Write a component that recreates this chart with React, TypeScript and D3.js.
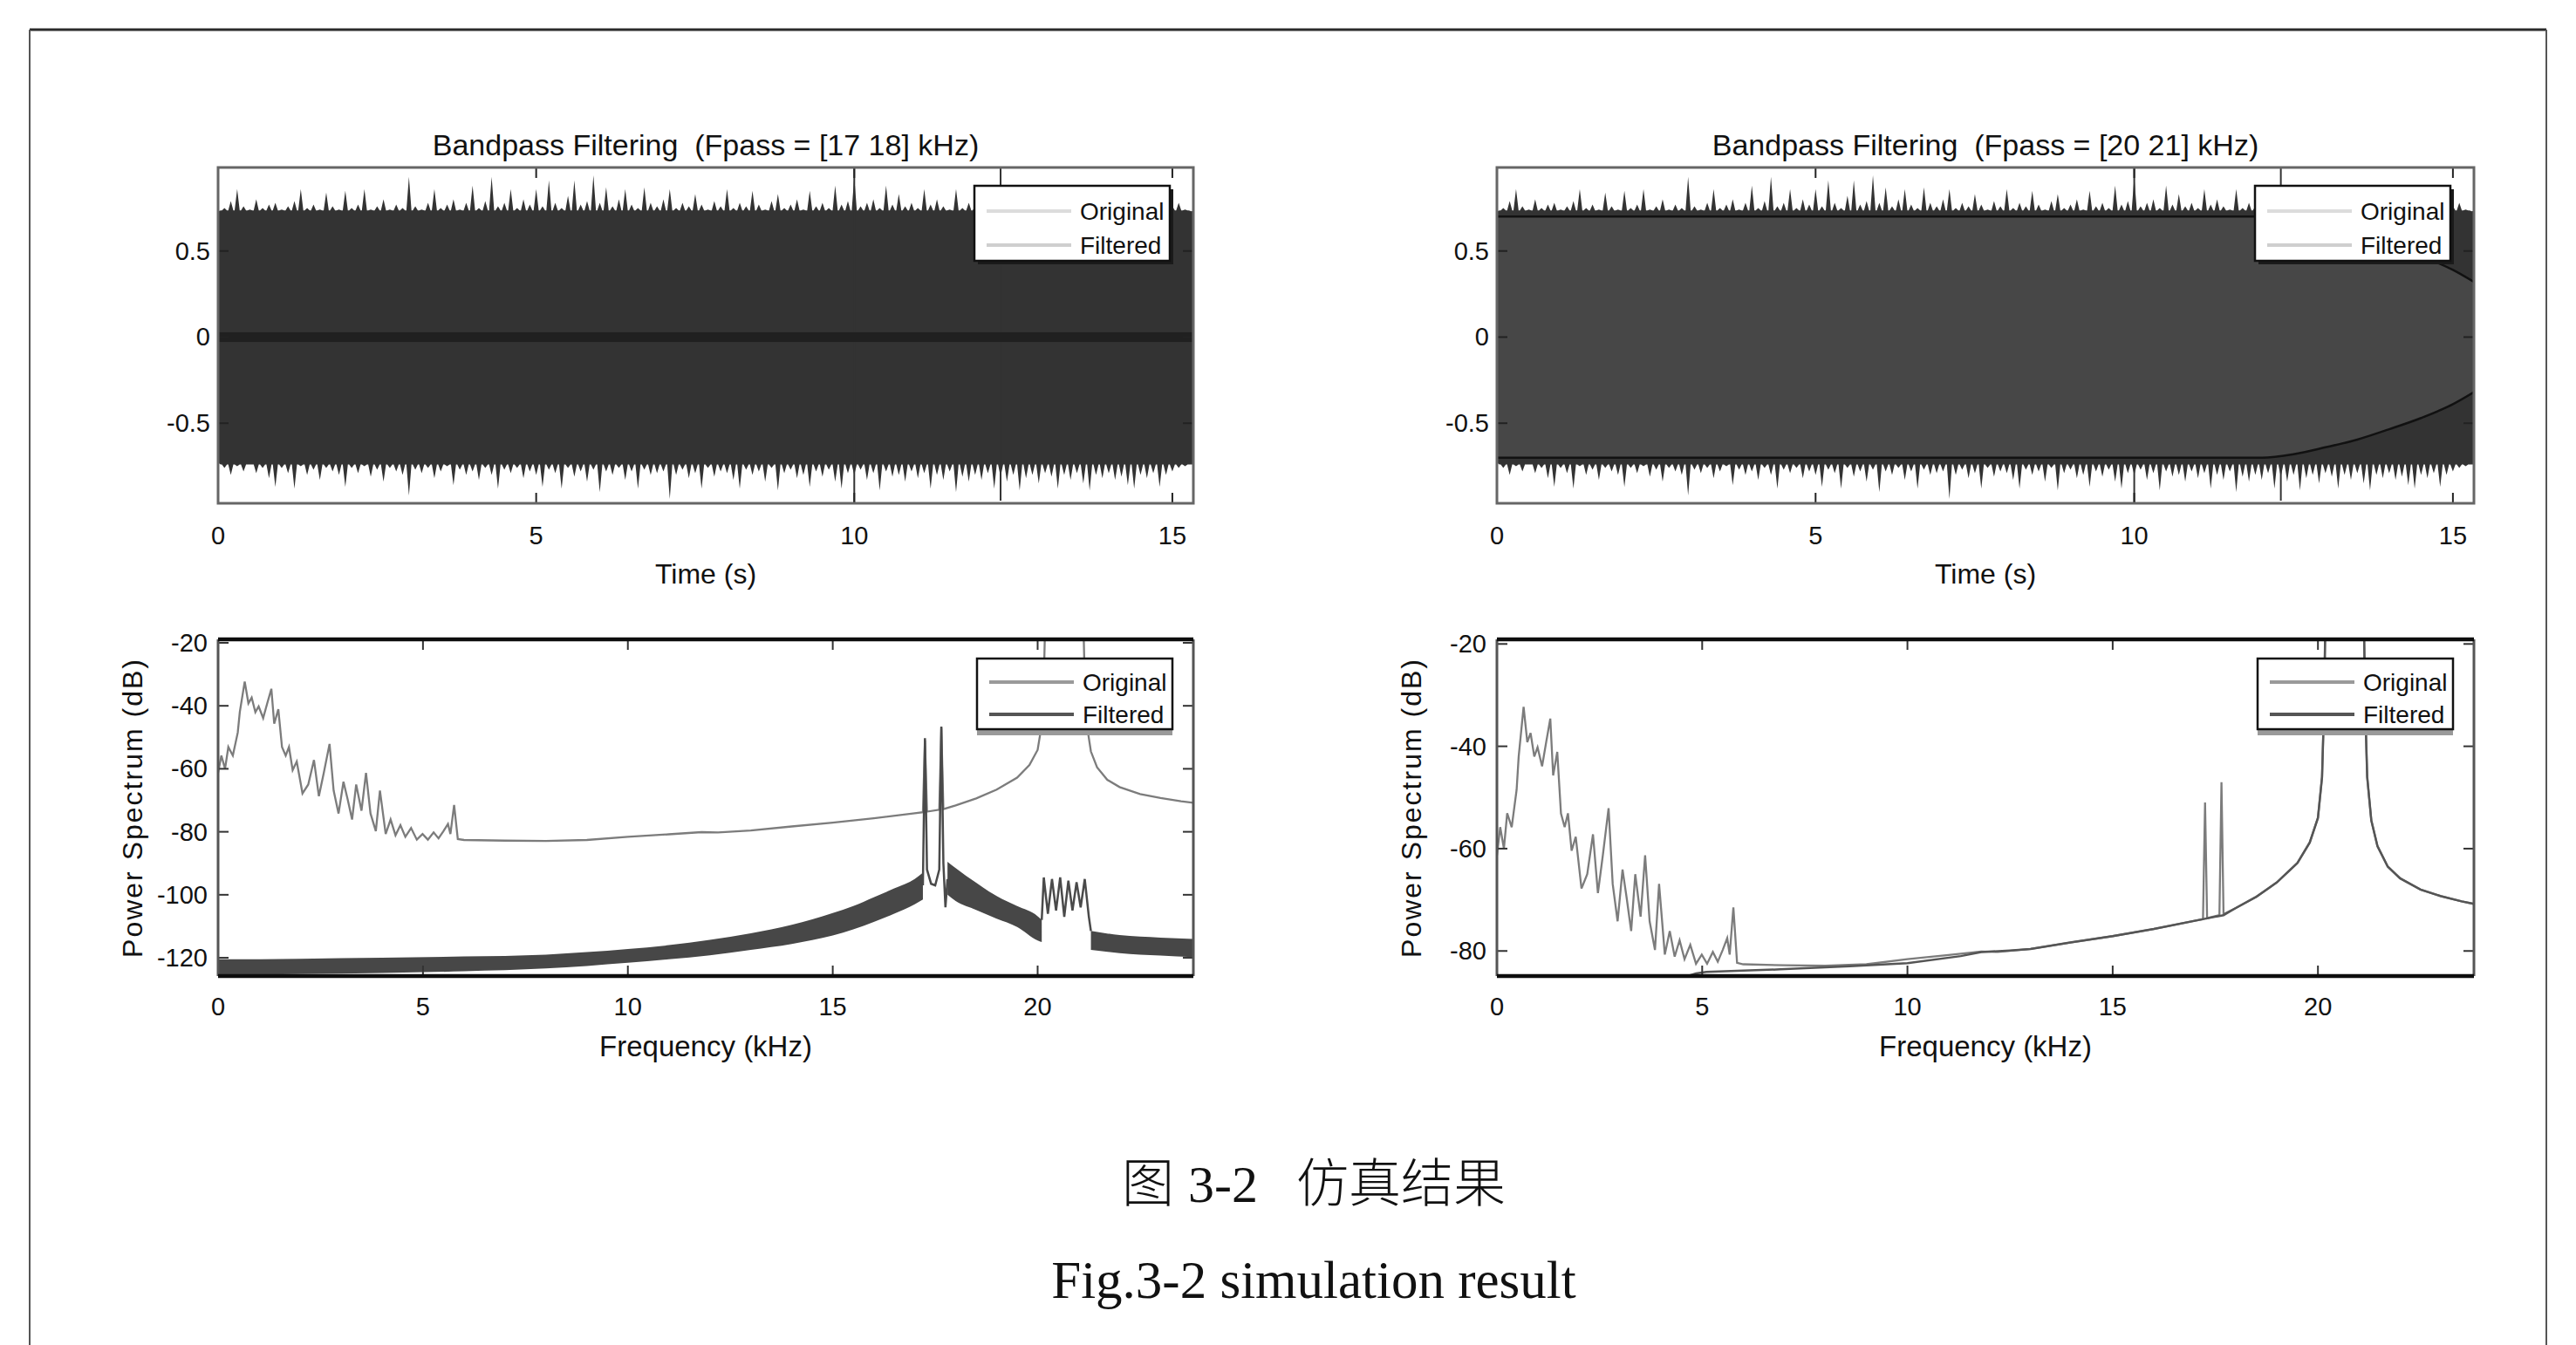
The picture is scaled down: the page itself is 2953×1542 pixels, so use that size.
import * as d3 from "d3";
import { useEffect } from "react";

const W = 2953;
const H = 1542;
const FONT = "'Liberation Sans', Arial, Helvetica, sans-serif";

// ---------- time domain (s, amplitude) ----------
const timeTicks = [0, 5, 10, 15];
const ampTicks = [-0.5, 0, 0.5];
const envStep = 0.1; // one envelope reading per 0.1 s
// upper envelope of the original signal, 0.0 .. 15.3 s
const origUpper = [
  0.73, 0.75, 0.79, 0.86, 0.76, 0.74, 0.8, 0.75, 0.77, 0.78,
  0.74, 0.76, 0.79, 0.86, 0.75, 0.77, 0.74, 0.84, 0.76, 0.74,
  0.85, 0.75, 0.77, 0.86, 0.74, 0.76, 0.8, 0.74, 0.77, 0.75,
  0.93, 0.76, 0.74, 0.78, 0.86, 0.75, 0.77, 0.8, 0.74, 0.78,
  0.88, 0.75, 0.79, 0.93, 0.76, 0.78, 0.86, 0.75, 0.8, 0.77,
  0.86, 0.76, 0.91, 0.78, 0.75, 0.82, 0.91, 0.77, 0.79, 0.94,
  0.78, 0.87, 0.76, 0.8, 0.86, 0.77, 0.75, 0.87, 0.78, 0.76,
  0.8, 0.86, 0.75, 0.78, 0.76, 0.83, 0.77, 0.74, 0.79, 0.76,
  0.86, 0.75, 0.78, 0.76, 0.85, 0.77, 0.74, 0.79, 0.83, 0.75,
  0.77, 0.8, 0.74, 0.85, 0.76, 0.78, 0.75, 0.88, 0.77, 0.79,
  0.93, 0.76, 0.78, 0.8, 0.75, 0.88, 0.77, 0.83, 0.76, 0.78,
  0.75, 0.86, 0.77, 0.8, 0.76, 0.74, 0.86, 0.75, 0.78, 0.76,
  0.88, 0.77, 0.75, 0.79, 0.82, 0.76, 0.74, 0.78, 0.8, 0.75,
  0.77, 0.76, 0.84, 0.75, 0.78, 0.74, 0.8, 0.76, 0.75, 0.77,
  0.83, 0.75, 0.77, 0.74, 0.8, 0.76, 0.75, 0.78, 0.82, 0.74,
  0.76, 0.78, 0.74, 0.73,
];
// lower envelope of the original signal, 0.0 .. 15.3 s
const origLower = [
  -0.73, -0.76, -0.8, -0.75, -0.78, -0.74, -0.79, -0.76, -0.82, -0.87,
  -0.76, -0.79, -0.88, -0.75, -0.8, -0.77, -0.83, -0.76, -0.78, -0.8,
  -0.87, -0.76, -0.79, -0.75, -0.81, -0.77, -0.84, -0.76, -0.78, -0.8,
  -0.92, -0.77, -0.79, -0.76, -0.82, -0.78, -0.75, -0.86, -0.77, -0.8,
  -0.78, -0.83, -0.76, -0.8, -0.88, -0.77, -0.79, -0.76, -0.82, -0.78,
  -0.8, -0.87, -0.77, -0.79, -0.88, -0.76, -0.81, -0.78, -0.84, -0.77,
  -0.9, -0.78, -0.8, -0.76, -0.83, -0.78, -0.88, -0.77, -0.8, -0.79,
  -0.78, -0.94, -0.8, -0.77, -0.82, -0.79, -0.88, -0.76, -0.81, -0.78,
  -0.79, -0.83, -0.88, -0.77, -0.8, -0.78, -0.84, -0.76, -0.89, -0.79,
  -0.77, -0.82, -0.8, -0.87, -0.78, -0.81, -0.77, -0.84, -0.88, -0.79,
  -0.8, -0.77, -0.83, -0.79, -0.89, -0.78, -0.81, -0.8, -0.84, -0.78,
  -0.82, -0.79, -0.88, -0.8, -0.83, -0.78, -0.9, -0.81, -0.84, -0.8,
  -0.83, -0.79, -0.88, -0.81, -0.84, -0.8, -0.89, -0.82, -0.8, -0.85,
  -0.79, -0.81, -0.88, -0.8, -0.83, -0.79, -0.85, -0.89, -0.8, -0.82,
  -0.79, -0.83, -0.81, -0.86, -0.88, -0.8, -0.82, -0.79, -0.87, -0.8,
  -0.78, -0.76, -0.75, -0.74,
];
const clickTimes = [10.0, 12.3];
const clickUpper = [0.98, 0.98];
const clickLower = [-0.96, -0.95];
// filtered output, Fpass = [17 18] kHz: almost nothing left
const filtLeftLevel = 0.028;
// filtered output, Fpass = [20 21] kHz: envelope
const filtRightT = [0, 12, 12.5, 13, 13.5, 14, 14.5, 15, 15.33];
const filtRightAmp = [0.7, 0.7, 0.68, 0.64, 0.595, 0.535, 0.47, 0.39, 0.32];

// ---------- spectrum (kHz, dB) ----------
const freqTicks = [0, 5, 10, 15, 20];
const dbTicksLeft = [-120, -100, -80, -60, -40, -20];
const dbTicksRight = [-80, -60, -40, -20];
const origFreq = [
  0, 0.08, 0.17, 0.25, 0.36, 0.48, 0.53, 0.65, 0.74, 0.82, 0.91, 0.99, 1.1, 1.2, 1.3, 1.37,
  1.47, 1.56, 1.65, 1.73, 1.82, 1.92, 2.06, 2.2, 2.34, 2.46, 2.58, 2.72, 2.82, 2.94, 3.06,
  3.16, 3.27, 3.37, 3.5, 3.61, 3.72, 3.85, 3.95, 4.09, 4.21, 4.33, 4.45, 4.57, 4.71, 4.85,
  4.99, 5.12, 5.26, 5.38, 5.5, 5.61, 5.67, 5.76, 5.85, 6.0, 7, 8, 9, 10, 11, 11.8, 12.2,
  13, 14, 15, 16, 17, 17.2, 17.25, 17.3, 17.6, 17.65, 17.7, 18, 18.5, 19, 19.5, 19.8, 20,
  20.1, 20.15, 20.2, 21.1, 21.15, 21.2, 21.3, 21.45, 21.7, 22, 22.5, 23, 23.5, 23.8,
];
const origDb = [
  -61.3, -55.8, -60, -53.1, -55.8, -48.5, -42, -32.3, -39.2, -37.4, -42, -40.2, -43.9, -39.2,
  -34.6, -45.7, -41.1, -53.1, -55.8, -53.1, -60.4, -57.7, -67.8, -65, -57.2, -68.7, -61.3,
  -52.1, -66.9, -74.2, -64.1, -69.6, -76.1, -65, -73.3, -61.3, -74.2, -79.8, -66.9, -80.7,
  -76.1, -81.1, -77.9, -81.6, -78.8, -82.5, -80.7, -82.5, -80.2, -82.1, -79.8, -77.5, -80.7,
  -71.5, -82.3, -82.6, -82.8, -82.9, -82.6, -81.6, -80.8, -80.1, -80.2, -79.6, -78.3, -77.1,
  -75.7, -74.1, -73.8, -51, -73.6, -73, -47, -72.8, -71.6, -69.4, -66.6, -62.8, -58.8, -54,
  -46, -32, -5, -5, -32, -46, -54.5, -59.5, -63.5, -65.8, -68, -69.3, -70.3, -70.8,
];
// filtered spectrum, Fpass = [17 18] kHz, dense ripple drawn as a band (freq, low, high)
const bandAFreq = [0, 2, 4, 6, 8, 9, 10, 11, 12, 13, 14, 14.5, 15, 15.5, 16, 16.5, 17, 17.2];
const bandALo = [-125.5, -125.2, -124.8, -124.3, -123.4, -122.6, -121.6, -120.5, -119.2, -117.5, -115.6, -114.4, -112.9, -111, -108.6, -106, -103, -101.5];
const bandAHi = [-120.5, -120.3, -120, -119.6, -119, -118.2, -117.2, -116, -114.3, -112.2, -109.5, -107.8, -105.8, -103.6, -100.8, -98, -95, -93];
const bandBFreq = [17.8, 18, 18.5, 19, 19.5, 20, 20.1];
const bandBLo = [-100, -102, -104.8, -107.6, -110.2, -114.5, -115];
const bandBHi = [-89.5, -91.5, -96.2, -100.4, -103.6, -106.8, -108];
const bandCFreq = [21.3, 22, 23, 23.8];
const bandCLo = [-117.5, -118.5, -119.3, -119.8];
const bandCHi = [-111.5, -112.8, -113.6, -114];
const peakFreq = [17.2, 17.25, 17.3, 17.4, 17.5, 17.6, 17.65, 17.7, 17.75, 17.8];
const peakDb = [-97, -50.3, -92, -96.5, -97, -92, -46.6, -90, -104, -95];
const boxFreq = [20.1, 20.15, 20.25, 20.35, 20.45, 20.55, 20.65, 20.75, 20.85, 20.95, 21.05, 21.15, 21.25, 21.3];
const boxDb = [-108, -94.5, -106, -95, -105, -94.5, -107, -95.5, -105, -96, -104, -95, -107, -111.5];
// filtered spectrum, Fpass = [20 21] kHz
const filtRFreq = [3.8, 4.85, 5.1, 6.9, 8.6, 10, 11.3, 11.8, 12.5, 13, 14, 15, 16, 17, 17.7, 18, 18.5, 19, 19.5, 19.8, 20, 20.1, 20.15, 20.2, 21.1, 21.15, 21.2, 21.3, 21.45, 21.7, 22, 22.5, 23, 23.5, 23.8];
const filtRDb = [-87, -84.4, -84.1, -83.6, -83, -82.4, -81, -80.2, -79.9, -79.6, -78.3, -77.1, -75.7, -74.1, -73, -71.6, -69.4, -66.6, -62.8, -58.8, -54, -46, -32, -5, -5, -32, -46, -54.5, -59.5, -63.5, -65.8, -68, -69.3, -70.3, -70.8];

type Entry = { label: string; color: string };

function Legend({ right, top, entries, shadow }: { right: number; top: number; entries: Entry[]; shadow: "dark" | "gray" }) {
  const w = 224;
  const h = shadow === "gray" ? 88 : 86;
  const left = right - w;
  const rowGap = shadow === "gray" ? 37 : 39;
  const row0 = shadow === "gray" ? 27 : 29;
  return (
    <g>
      {shadow === "dark" ? (
        <path d={`M${left + 4},${top + h + 2}H${right + 2}V${top + 4}`} fill="none" stroke="#1a1a1a" strokeWidth={4} />
      ) : (
        <rect x={left} y={top + h - 7} width={w} height={7} fill="#9a9a9a" />
      )}
      <rect x={left} y={top} width={w} height={shadow === "gray" ? h - 7 : h} fill="#fff" stroke="#111" strokeWidth={2.5} />
      {entries.map((e, i) => {
        const cy = top + row0 + i * rowGap;
        return (
          <g key={e.label}>
            <line x1={left + 14} x2={left + 111} y1={cy} y2={cy} stroke={e.color} strokeWidth={4} />
            <text x={left + 121} y={cy + 10} fontSize={28} fill="#111">{e.label}</text>
          </g>
        );
      })}
    </g>
  );
}

function Ticks({ x, y, xTicks, yTicks, color }: any) {
  const [l, r] = x.range();
  const [b, t] = y.range();
  const len = 12;
  return (
    <g stroke={color} strokeWidth={2}>
      {xTicks.map((v: number) => (
        <g key={"x" + v}>
          <line x1={x(v)} x2={x(v)} y1={b} y2={b - len} />
          <line x1={x(v)} x2={x(v)} y1={t} y2={t + len} />
        </g>
      ))}
      {yTicks.map((v: number) => (
        <g key={"y" + v}>
          <line x1={l} x2={l + len} y1={y(v)} y2={y(v)} />
          <line x1={r} x2={r - len} y1={y(v)} y2={y(v)} />
        </g>
      ))}
    </g>
  );
}

function TimePanel({ left, right, title, variant, id }: { left: number; right: number; title: string; variant: "left" | "right"; id: string }) {
  const top = 192;
  const bottom = 577;
  const x = d3.scaleLinear().domain([0, 15.33]).range([left, right]);
  const y = d3.scaleLinear().domain([-0.965, 0.985]).range([bottom, top]);
  const hw = 0.04;
  const up: [number, number][] = [];
  origUpper.forEach((v, i) => {
    const t = i * envStep;
    up.push([x(t - hw), y(0.735)], [x(t), y(v)], [x(t + hw), y(0.735)]);
  });
  const lo: [number, number][] = [];
  origLower.forEach((v, i) => {
    const t = i * envStep;
    lo.push([x(t - hw), y(-0.74)], [x(t), y(v)], [x(t + hw), y(-0.74)]);
  });
  const poly = d3.line()([...up, ...lo.reverse()]) + "Z";
  const env = filtRightT.map((t, i) => ({ t, a: filtRightAmp[i] }));
  const envArea = d3
    .area<{ t: number; a: number }>()
    .x((d) => x(d.t))
    .y0((d) => y(-d.a))
    .y1((d) => y(d.a))
    .curve(d3.curveMonotoneX)(env) as string;
  const envTop = d3.line<{ t: number; a: number }>().x((d) => x(d.t)).y((d) => y(d.a)).curve(d3.curveMonotoneX)(env) as string;
  const envBot = d3.line<{ t: number; a: number }>().x((d) => x(d.t)).y((d) => y(-d.a)).curve(d3.curveMonotoneX)(env) as string;
  const cx = (left + right) / 2;
  return (
    <g>
      <clipPath id={id}>
        <rect x={left} y={top} width={right - left} height={bottom - top} />
      </clipPath>
      <text x={cx} y={178} textAnchor="middle" fontSize={34} fill="#111" style={{ whiteSpace: "pre" }}>{title}</text>
      <g clipPath={`url(#${id})`}>
        <path d={poly} fill="#333" />
        {clickTimes.map((t, i) => (
          <line key={t} x1={x(t)} x2={x(t)} y1={y(clickUpper[i])} y2={y(clickLower[i])} stroke="#333" strokeWidth={2} />
        ))}
        {variant === "left" ? (
          <rect x={left} y={y(filtLeftLevel)} width={right - left} height={y(-filtLeftLevel) - y(filtLeftLevel)} fill="#202020" />
        ) : (
          <g>
            <path d={envArea} fill="#474747" />
            <path d={envTop} fill="none" stroke="#111" strokeWidth={2.5} />
            <path d={envBot} fill="none" stroke="#111" strokeWidth={2.5} />
          </g>
        )}
      </g>
      <Ticks x={x} y={y} xTicks={timeTicks} yTicks={ampTicks} color="#222" />
      <rect x={left} y={top} width={right - left} height={bottom - top} fill="none" stroke="#666" strokeWidth={3} />
      {timeTicks.map((v) => (
        <text key={v} x={x(v)} y={624} textAnchor="middle" fontSize={29} fill="#111">{v}</text>
      ))}
      {ampTicks.map((v) => (
        <text key={v} x={left - 9} y={y(v) + 10} textAnchor="end" fontSize={29} fill="#111">{String(v)}</text>
      ))}
      <text x={cx} y={669} textAnchor="middle" fontSize={32} fill="#111">Time (s)</text>
      <Legend
        right={right - 27}
        top={top + 21}
        shadow="dark"
        entries={[
          { label: "Original", color: "#dcdcdc" },
          { label: "Filtered", color: "#cfcfcf" },
        ]}
      />
    </g>
  );
}

function SpecPanel({ left, right, dbMin, dbMax, dbTicks, variant, id }: { left: number; right: number; dbMin: number; dbMax: number; dbTicks: number[]; variant: "left" | "right"; id: string }) {
  const top = 733;
  const bottom = 1119;
  const x = d3.scaleLinear().domain([0, 23.8]).range([left, right]);
  const y = d3.scaleLinear().domain([dbMin, dbMax]).range([bottom, top]);
  const line = (fs: number[], vs: number[]) => d3.line<number>().x((f) => x(f)).y((_, i) => y(vs[i]))(fs) as string;
  const band = (fs: number[], lo: number[], hi: number[]) =>
    d3
      .area<number>()
      .x((f) => x(f))
      .y0((_, i) => y(lo[i]))
      .y1((_, i) => y(hi[i]))
      .curve(d3.curveMonotoneX)(fs) as string;
  const cx = (left + right) / 2;
  const cy = (top + bottom) / 2;
  const labelX = left - 98;
  return (
    <g>
      <clipPath id={id}>
        <rect x={left} y={top} width={right - left} height={bottom - top} />
      </clipPath>
      <g clipPath={`url(#${id})`}>
        <path d={line(origFreq, origDb)} fill="none" stroke="#7c7c7c" strokeWidth={2.3} />
        {variant === "left" ? (
          <g fill="#474747" stroke="none">
            <path d={band(bandAFreq, bandALo, bandAHi)} />
            <path d={band(bandBFreq, bandBLo, bandBHi)} />
            <path d={band(bandCFreq, bandCLo, bandCHi)} />
            <path d={line(peakFreq, peakDb)} fill="none" stroke="#4a4a4a" strokeWidth={2.5} />
            <path d={line(boxFreq, boxDb)} fill="none" stroke="#4a4a4a" strokeWidth={2.5} />
          </g>
        ) : (
          <path d={line(filtRFreq, filtRDb)} fill="none" stroke="#555" strokeWidth={2.5} />
        )}
      </g>
      <Ticks x={x} y={y} xTicks={freqTicks} yTicks={dbTicks} color="#333" />
      <line x1={left} x2={left} y1={top} y2={bottom} stroke="#555" strokeWidth={3} />
      <line x1={right} x2={right} y1={top} y2={bottom} stroke="#555" strokeWidth={3} />
      <line x1={left} x2={right} y1={top} y2={top} stroke="#0d0d0d" strokeWidth={4.5} />
      <line x1={left} x2={right} y1={bottom} y2={bottom} stroke="#0d0d0d" strokeWidth={4.5} />
      {freqTicks.map((v) => (
        <text key={v} x={x(v)} y={1164} textAnchor="middle" fontSize={29} fill="#111">{v}</text>
      ))}
      {dbTicks.map((v) => (
        <text key={v} x={left - 12} y={y(v) + 10} textAnchor="end" fontSize={29} fill="#111">{String(v)}</text>
      ))}
      <text x={cx} y={1211} textAnchor="middle" fontSize={33} fill="#111">Frequency (kHz)</text>
      <text
        transform={`translate(${labelX},${cy}) rotate(-90)`}
        textAnchor="middle"
        dy={11}
        fontSize={32}
        letterSpacing={2}
        fill="#111"
      >
        Power Spectrum (dB)
      </text>
      <Legend
        right={right - 24}
        top={top + 22}
        shadow="gray"
        entries={[
          { label: "Original", color: "#9a9a9a" },
          { label: "Filtered", color: "#555" },
        ]}
      />
    </g>
  );
}

export default function App() {
  useEffect(() => {
    document.body.style.margin = "0";
  }, []);
  return (
    <svg
      width={W}
      height={H}
      viewBox={`0 0 ${W} ${H}`}
      style={{ display: "block", position: "absolute", left: 0, top: 0 }}
      fontFamily={FONT}
    >
      <rect width={W} height={H} fill="#fff" />
      {/* page frame */}
      <line x1={34} x2={2919} y1={34} y2={34} stroke="#2a2a2a" strokeWidth={3} />
      <line x1={34} x2={34} y1={34} y2={H} stroke="#555" strokeWidth={2} />
      <line x1={2919} x2={2919} y1={34} y2={H} stroke="#555" strokeWidth={2} />

      <TimePanel left={250} right={1368} title="Bandpass Filtering  (Fpass = [17 18] kHz)" variant="left" id="c1" />
      <TimePanel left={1716} right={2836} title="Bandpass Filtering  (Fpass = [20 21] kHz)" variant="right" id="c2" />
      <SpecPanel left={250} right={1368} dbMin={-125.8} dbMax={-18.9} dbTicks={dbTicksLeft} variant="left" id="c3" />
      <SpecPanel left={1716} right={2836} dbMin={-84.9} dbMax={-19.1} dbTicks={dbTicksRight} variant="right" id="c4" />

      <text x={1506} y={1378} textAnchor="middle" fontSize={60} fill="#111">
        <tspan fontFamily="'Noto Sans CJK SC', sans-serif" fontWeight={300}>图</tspan>
        <tspan fontFamily="'Liberation Serif', 'Times New Roman', serif" dx={16}>3-2</tspan>
        <tspan fontFamily="'Noto Sans CJK SC', sans-serif" fontWeight={300} dx={44}>仿真结果</tspan>
      </text>
      <text x={1506} y={1488} textAnchor="middle" fontSize={61} fill="#111" fontFamily="'Liberation Serif', 'Times New Roman', serif">
        Fig.3-2 simulation result
      </text>
    </svg>
  );
}
